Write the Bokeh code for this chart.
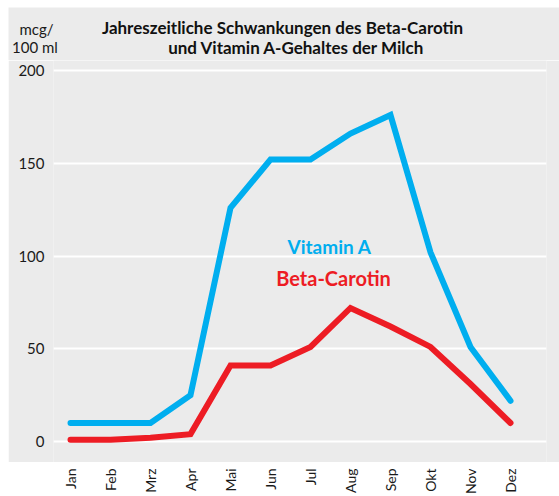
import numpy as np
from math import pi
from bokeh.plotting import figure
from bokeh.models import Range1d, FixedTicker, Label, Spacer
from bokeh.layouts import column, row
from bokeh.embed import file_html
from bokeh.resources import INLINE

months = ["Jan", "Feb", "Mrz", "Apr", "Mai", "Jun", "Jul", "Aug", "Sep", "Okt", "Nov", "Dez"]
vitamin_a = [10, 10, 10, 25, 126, 152, 152, 166, 176, 102, 51, 22]
beta_carotin = [1, 1, 2, 4, 41, 41, 51, 72, 62, 51, 31, 10]
y_ticks = [0, 50, 100, 150, 200]

title_lines = ["Jahreszeitliche Schwankungen des Beta-Carotin", "und Vitamin A-Gehaltes der Milch"]
unit_lines = ["mcg/", "100 ml"]

BG = "#ebebeb"
BLUE = "#00aeef"
RED = "#ed1c24"
FONT = "Lato"
TXT = "#1a1a1a"

W = 551
x = list(range(len(months)))
xr = Range1d(-0.425, 11.9)

# header panel (title + unit)
ph = figure(width=W, height=53, x_range=Range1d(0, W), y_range=Range1d(53, 0),
            output_backend="svg", toolbar_location=None, x_axis_location=None, y_axis_location=None,
            min_border=0, background_fill_color=BG, border_fill_color=BG, outline_line_color=None)
ph.frame_align = False
ph.grid.grid_line_color = None
ph.add_layout(Label(x=274, y=20, text=title_lines[0], text_align="center", text_baseline="alphabetic",
                    text_font=FONT, text_font_style="bold", text_font_size="17px", text_color="#111111"))
ph.add_layout(Label(x=288, y=40, text=title_lines[1], text_align="center", text_baseline="alphabetic",
                    text_font=FONT, text_font_style="bold", text_font_size="17px", text_color="#111111"))
ph.add_layout(Label(x=28, y=21, text=unit_lines[0], text_align="center", text_baseline="alphabetic",
                    text_font=FONT, text_font_size="15px", text_color=TXT))
ph.add_layout(Label(x=26.5, y=39, text=unit_lines[1], text_align="center", text_baseline="alphabetic",
                    text_font=FONT, text_font_size="15px", text_color=TXT))

# main chart
p = figure(width=W, height=402, x_range=xr, y_range=Range1d(-11.3, 205.4),
           output_backend="svg", toolbar_location=None, x_axis_location=None,
           min_border_left=45, min_border_right=13, min_border_top=0, min_border_bottom=0,
           background_fill_color=BG, border_fill_color=BG, outline_line_color=None)
p.xgrid.grid_line_color = None
p.ygrid.grid_line_color = "white"
p.ygrid.grid_line_width = 2
p.yaxis.ticker = FixedTicker(ticks=y_ticks)
p.yaxis.axis_line_color = None
p.yaxis.major_tick_line_color = None
p.yaxis.minor_tick_line_color = None
p.yaxis.major_tick_in = 0
p.yaxis.major_tick_out = 0
p.yaxis.major_label_standoff = 9
p.yaxis.major_label_text_font = FONT
p.yaxis.major_label_text_font_size = "15px"
p.yaxis.major_label_text_color = TXT

p.line(x, vitamin_a, line_color=BLUE, line_width=6, line_cap="round", line_join="miter")
p.line(x, beta_carotin, line_color=RED, line_width=6, line_cap="round", line_join="miter")

p.add_layout(Label(x=6.475, y=105.1, text="Vitamin A", text_align="center", text_baseline="alphabetic",
                   text_font=FONT, text_font_style="bold", text_font_size="19px", text_color=BLUE))
p.add_layout(Label(x=6.575, y=88.4, text="Beta-Carotin", text_align="center", text_baseline="alphabetic",
                   text_font=FONT, text_font_style="bold", text_font_size="20px", text_color=RED))

# x-axis strip below the grey panel
p2 = figure(width=W, height=34, x_range=xr, y_range=Range1d(0, 1),
            output_backend="svg", toolbar_location=None, y_axis_location=None,
            min_border_left=45, min_border_right=13, min_border_top=0, min_border_bottom=30,
            background_fill_color="white", border_fill_color="white", outline_line_color=None)
p2.grid.grid_line_color = None
p2.xaxis.ticker = FixedTicker(ticks=x)
p2.xaxis.major_label_overrides = {i: m for i, m in zip(x, months)}
p2.xaxis.major_label_orientation = pi / 2
p2.xaxis.axis_line_color = None
p2.xaxis.major_tick_line_color = None
p2.xaxis.minor_tick_line_color = None
p2.xaxis.major_tick_in = 0
p2.xaxis.major_tick_out = 0
p2.xaxis.major_label_standoff = 5
p2.xaxis.major_label_text_font = FONT
p2.xaxis.major_label_text_font_size = "14px"
p2.xaxis.major_label_text_color = TXT

layout = column(Spacer(height=7), row(Spacer(width=8), column(ph, p, p2, spacing=0), spacing=0), spacing=0)
open("out.html", "w").write(file_html(layout, INLINE))
